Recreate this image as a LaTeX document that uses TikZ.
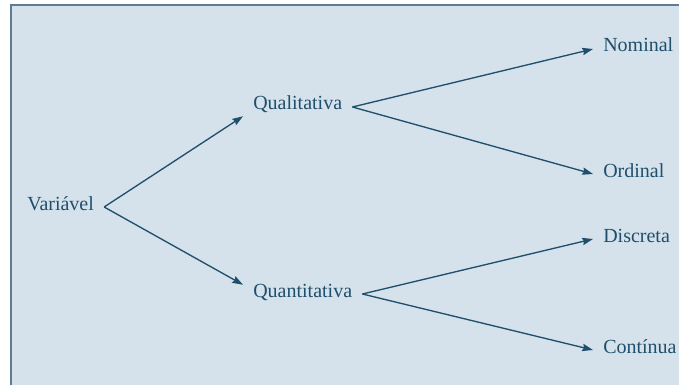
\documentclass[tikz,border=0pt]{standalone}
\usepackage{fontspec}
\setmainfont{Liberation Serif}
\usetikzlibrary{arrows.meta}

\definecolor{inkblue}{HTML}{1E4F6C}
\definecolor{paneblue}{HTML}{D6E2EB}
\definecolor{rimblue}{HTML}{5F7C94}

\begin{document}
\begin{tikzpicture}[x=0.75pt, y=-0.75pt,
    lbl/.style={anchor=base west, text=inkblue, inner xsep=7.5pt, inner ysep=2pt,
        text height=0.7em, text depth=0.25em, font=\fontsize{15}{18}\selectfont},
    branch/.style={draw=inkblue, line width=1pt, -{Stealth[length=8pt, width=5.5pt, inset=1pt]}}]

    % 1. Page size and the panel behind the tree
    \useasboundingbox (0,0) rectangle (679,385);
    \clip (0,0) rectangle (679,385);
    \fill[paneblue] (11,5) rectangle (700,400);
    \draw[rimblue, line width=1.5pt] (11,400) -- (11,5) -- (700,5);

    % 2. Places of the labels (left edge, baseline)
    \coordinate (V) at (17,210);
    \coordinate (QL) at (243,110);
    \coordinate (QN) at (243,297);
    \coordinate (N) at (593,52);
    \coordinate (O) at (593,177);
    \coordinate (D) at (593,242);
    \coordinate (C) at (593,353);

    % 3. Labels
    \node[lbl] (var) at (V) {Variável};
    \node[lbl] (qual) at (QL) {Qualitativa};
    \node[lbl] (quant) at (QN) {Quantitativa};
    \node[lbl] (nom) at (N) {Nominal};
    \node[lbl] (ord) at (O) {Ordinal};
    \node[lbl] (disc) at (D) {Discreta};
    \node[lbl] (cont) at (C) {Contínua};

    % 4. Branches of the tree
    \draw[branch] (var.east) -- (qual.south west);
    \draw[branch] (var.east) -- (quant.north west);
    \draw[branch] (qual.east) -- (nom.west);
    \draw[branch] (qual.east) -- (ord.west);
    \draw[branch] (quant.east) -- (disc.west);
    \draw[branch] (quant.east) -- (cont.west);

\end{tikzpicture}
\end{document}
